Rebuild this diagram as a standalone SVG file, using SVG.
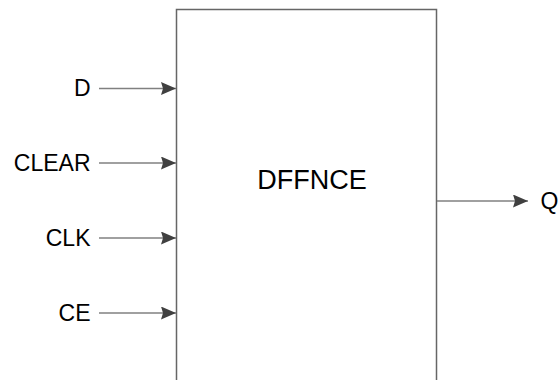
<svg xmlns="http://www.w3.org/2000/svg" width="560" height="380" viewBox="0 0 560 380">
<style>
.lbl{font-family:"Liberation Sans",Arial,sans-serif;font-size:23px;fill:#000}
.title{font-family:"Liberation Sans",Arial,sans-serif;font-size:27px;fill:#000}
.wire{stroke:#808080;stroke-width:1.5;fill:none}
.box{stroke:#666;stroke-width:1.5;fill:#fff}
</style>
<defs>
<marker id="arr" markerWidth="15" markerHeight="13" refX="15" refY="6.5" orient="auto" markerUnits="userSpaceOnUse">
<path d="M0,0 L15,6.5 L0,13 L2,6.5 Z" fill="#404040"/>
</marker>
</defs>
<g id="block">
<rect class="box" x="176.5" y="9.5" width="260" height="400"/>
<text class="title" x="312" y="188.5" text-anchor="middle">DFFNCE</text>
</g>
<g id="port-D"><text class="lbl" x="90.5" y="95.5" text-anchor="end">D</text></g>
<g id="port-CLEAR"><text class="lbl" x="90.5" y="171" text-anchor="end">CLEAR</text></g>
<g id="port-CLK"><text class="lbl" x="90.5" y="245.5" text-anchor="end">CLK</text></g>
<g id="port-CE"><text class="lbl" x="90.5" y="320.5" text-anchor="end">CE</text></g>
<g id="port-Q"><text class="lbl" x="540.5" y="208.5">Q</text></g>
<g id="connectors">
<line class="wire" x1="99" y1="88.5" x2="176" y2="88.5" marker-end="url(#arr)"/>
<line class="wire" x1="99" y1="163" x2="176" y2="163" marker-end="url(#arr)"/>
<line class="wire" x1="99" y1="238" x2="176" y2="238" marker-end="url(#arr)"/>
<line class="wire" x1="99" y1="313" x2="176" y2="313" marker-end="url(#arr)"/>
<line class="wire" x1="437" y1="201" x2="528" y2="201" marker-end="url(#arr)"/>
</g>
</svg>
